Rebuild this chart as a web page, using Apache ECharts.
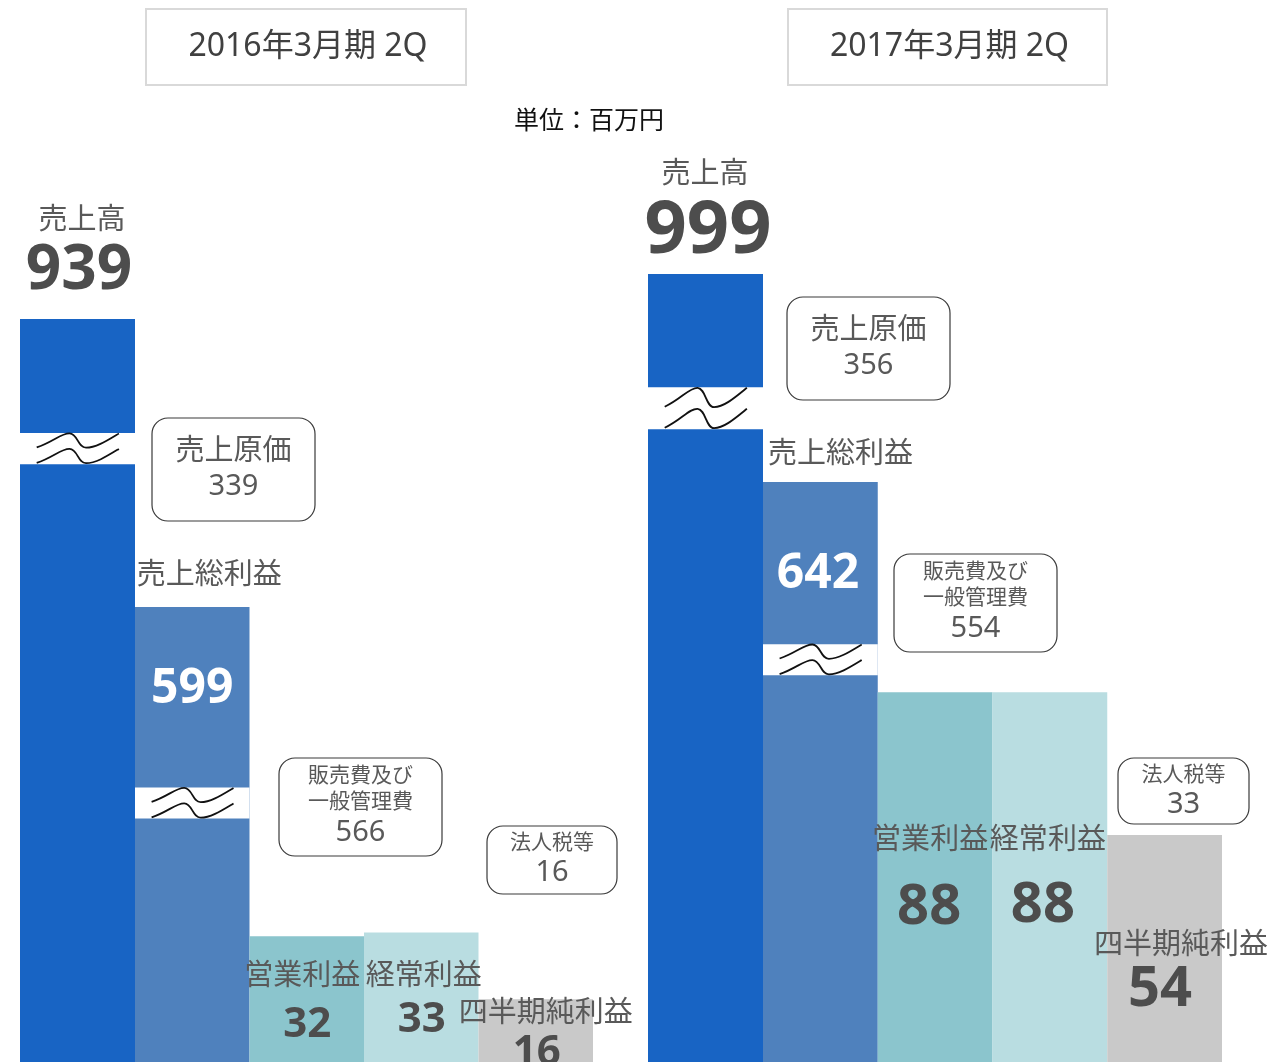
<!DOCTYPE html>
<html lang="ja">
<head>
<meta charset="utf-8">
<title>2016年3月期 2Q / 2017年3月期 2Q</title>
<script src="https://cdn.jsdelivr.net/npm/echarts@6.0.0/dist/echarts.min.js"></script>
<style>
  html, body { margin: 0; padding: 0; background: #fff; }
  #chart { width: 1273px; height: 1062px; }
</style>
</head>
<body>
<div id="chart"></div>
<script>
// 単位：百万円
const items = ['売上高', '売上総利益', '営業利益', '経常利益', '四半期純利益'];
const periods = ['2016年3月期 2Q', '2017年3月期 2Q'];
const values2016 = [939, 599, 32, 33, 16];
const values2017 = [999, 642, 88, 88, 54];

// 差し引かれる費用
const costNames = ['売上原価', '販売費及び\n一般管理費', '法人税等'];
const costs2016 = [339, 566, 16];
const costs2017 = [356, 554, 33];

// 省略区間（波線） [start, end, gap] : 売上高, 売上総利益
const breaks2016 = [[152, 910, 7.9], [62, 553, 7.9]];
const breaks2017 = [[150.7, 972, 10], [92, 603.4, 7.4]];

const barColors = ['#1864c4', '#4f81bd', '#8bc5cd', '#b9dde1', '#c9c9c9'];
const FONT = '"Noto Sans", "Noto Sans CJK JP", sans-serif';
const font = (size, bold) => (bold ? 'bold ' : '') + size + 'px ' + FONT;

const panels = [
  {
    values: values2016, costs: costs2016, breaks: breaks2016,
    grids: [{ left: 20, width: 115, top: 319 }, { left: 135, width: 458, top: 607 }],
    nameOffset: [[4.5, -98], [-55.5, -31], [-4.5, 40.7], [2.5, 44.7], [10, 14.9]],
    valueOffset: [[1.5, -48], [0, 82], [0.5, 88.7], [0.5, 87.7], [1, 53.9]],
    valueSize: [62, 48, 42, 42, 42],
    title: [146, 9, 320, 76],
    boxes: [[152, 418, 163, 103], [279, 758, 163, 98], [487, 826, 130, 68]]
  },
  {
    values: values2017, costs: costs2017, breaks: breaks2017,
    grids: [{ left: 648, width: 115, top: 274 }, { left: 763, width: 459, top: 482 }],
    nameOffset: [[-0.5, -99], [-52.4, -27], [-5, 148.6], [-2, 148.6], [16.4, 110.8]],
    valueOffset: [[2.5, -42], [-2.4, 92], [-6, 215.6], [-7, 213.6], [-4.6, 154.8]],
    valueSize: [74, 48, 56, 56, 56],
    title: [788, 9, 319, 76],
    boxes: [[787, 297, 163, 103], [894, 554, 163, 98], [1118, 758, 131, 66]]
  }
];

// 吹き出し内の文字配置（箱の上端からの距離）
const costLayout = [
  { size: 29, lines: [34], value: 69 },
  { size: 21, lines: [18, 44], value: 75 },
  { size: 21, lines: [17], value: 47 }
];

function wavePath(x0, yt, ww, h, v0) {
  const P = (u, v) => (x0 + u * ww).toFixed(1) + ' ' + (yt + (v0 + v) * h).toFixed(1);
  return 'M' + P(0, 0.46) +
    'C' + P(0.2, 0.28) + ' ' + P(0.3, 0) + ' ' + P(0.4, 0.01) +
    'C' + P(0.5, 0.02) + ' ' + P(0.5, 0.47) + ' ' + P(0.6, 0.47) +
    'C' + P(0.72, 0.47) + ' ' + P(0.85, 0.25) + ' ' + P(1, 0.01);
}

function renderBreak(params, api) {
  const x = api.value(0);
  const lo = api.coord([x, api.value(1)]);
  const hi = api.coord([x, api.value(2)]);
  const w = api.size([1, 0])[0];
  const left = lo[0] - w / 2;
  const h = lo[1] - hi[1];
  const x0 = left + w * 0.145, ww = w * 0.715;
  const line = { stroke: '#111', fill: 'none', lineWidth: 1.8 };
  return {
    type: 'group',
    children: [
      { type: 'rect', shape: { x: left, y: hi[1], width: w, height: h }, style: { fill: '#fff' } },
      { type: 'path', shape: { pathData: wavePath(x0, hi[1], ww, h, 0) }, style: line },
      { type: 'path', shape: { pathData: wavePath(x0, hi[1], ww, h, 0.5) }, style: line }
    ]
  };
}

function renderLabel(pn, api) {
  const i = api.value(2);
  const pt = api.coord([api.value(0), api.value(1)]);
  const no = pn.nameOffset[i], vo = pn.valueOffset[i];
  return {
    type: 'group',
    children: [
      {
        type: 'text', x: pt[0] + no[0], y: pt[1] + no[1],
        style: { text: items[i], font: font(29), fill: '#595959',
          textAlign: i === 1 ? 'left' : 'center', textVerticalAlign: 'middle' }
      },
      {
        type: 'text', x: pt[0] + vo[0], y: pt[1] + vo[1],
        style: { text: String(api.value(1)), font: font(pn.valueSize[i], true),
          fill: i === 1 ? '#ffffff' : '#4d4d4d', textAlign: 'center', textVerticalAlign: 'middle' }
      }
    ]
  };
}

const grids = [], xAxes = [], yAxes = [], series = [], graphic = [];

panels.forEach((pn, p) => {
  pn.grids.forEach((g, gi) => {
    const idx = gi === 0 ? [0] : [1, 2, 3, 4];
    const n = grids.length;
    const b = pn.breaks[gi];
    grids.push({ left: g.left, width: g.width, top: g.top, bottom: 0, outerBoundsMode: 'none' });
    xAxes.push({ type: 'category', gridIndex: n, data: idx.map(i => items[i]), show: false });
    yAxes.push({
      type: 'value', gridIndex: n, min: 0, max: pn.values[idx[0]],
      breaks: [{ start: b[0], end: b[1], gap: b[2] }],
      breakArea: { show: false },
      axisLine: { show: false }, axisTick: { show: false },
      axisLabel: { show: false }, splitLine: { show: false }
    });
    series.push({
      type: 'bar', xAxisIndex: n, yAxisIndex: n, barCategoryGap: '0%', silent: true,
      data: idx.map(i => ({ value: pn.values[i], itemStyle: { color: barColors[i] } }))
    });
    series.push({
      type: 'custom', xAxisIndex: n, yAxisIndex: n, z: 10, silent: true, clip: false,
      data: [[0, b[0], b[1]]], renderItem: renderBreak
    });
    series.push({
      type: 'custom', xAxisIndex: n, yAxisIndex: n, z: 11, silent: true, clip: false,
      data: idx.map((i, k) => [k, pn.values[i], i]),
      renderItem: (params, api) => renderLabel(pn, api)
    });
  });

  // 期タイトル
  const t = pn.title;
  graphic.push({ type: 'rect', shape: { x: t[0], y: t[1], width: t[2], height: t[3] },
    style: { fill: '#fff', stroke: '#d9d9d9', lineWidth: 2 } });
  graphic.push({ type: 'text', x: t[0] + t[2] / 2 + 2, y: t[1] + t[3] / 2,
    style: { text: periods[p], font: font(32), fill: '#404040', textAlign: 'center', textVerticalAlign: 'middle' } });

  // 費用の吹き出し
  pn.boxes.forEach((bx, c) => {
    const lay = costLayout[c];
    const cx = bx[0] + bx[2] / 2;
    graphic.push({ type: 'rect', shape: { x: bx[0], y: bx[1], width: bx[2], height: bx[3], r: 16 },
      style: { fill: '#fff', stroke: '#3a3a3a', lineWidth: 1.2 } });
    costNames[c].split('\n').forEach((s, li) => {
      graphic.push({ type: 'text', x: cx, y: bx[1] + lay.lines[li],
        style: { text: s, font: font(lay.size), fill: '#595959', textAlign: 'center', textVerticalAlign: 'middle' } });
    });
    graphic.push({ type: 'text', x: cx, y: bx[1] + lay.value,
      style: { text: String(pn.costs[c]), font: font(29), fill: '#595959', textAlign: 'center', textVerticalAlign: 'middle' } });
  });
});

graphic.push({ type: 'text', x: 589, y: 122,
  style: { text: '単位：百万円', font: font(25), fill: '#111', textAlign: 'center', textVerticalAlign: 'middle' } });

const chart = echarts.init(document.getElementById('chart'));
chart.setOption({
  animation: false,
  backgroundColor: '#fff',
  grid: grids,
  xAxis: xAxes,
  yAxis: yAxes,
  series: series,
  graphic: graphic
});
</script>
</body>
</html>
